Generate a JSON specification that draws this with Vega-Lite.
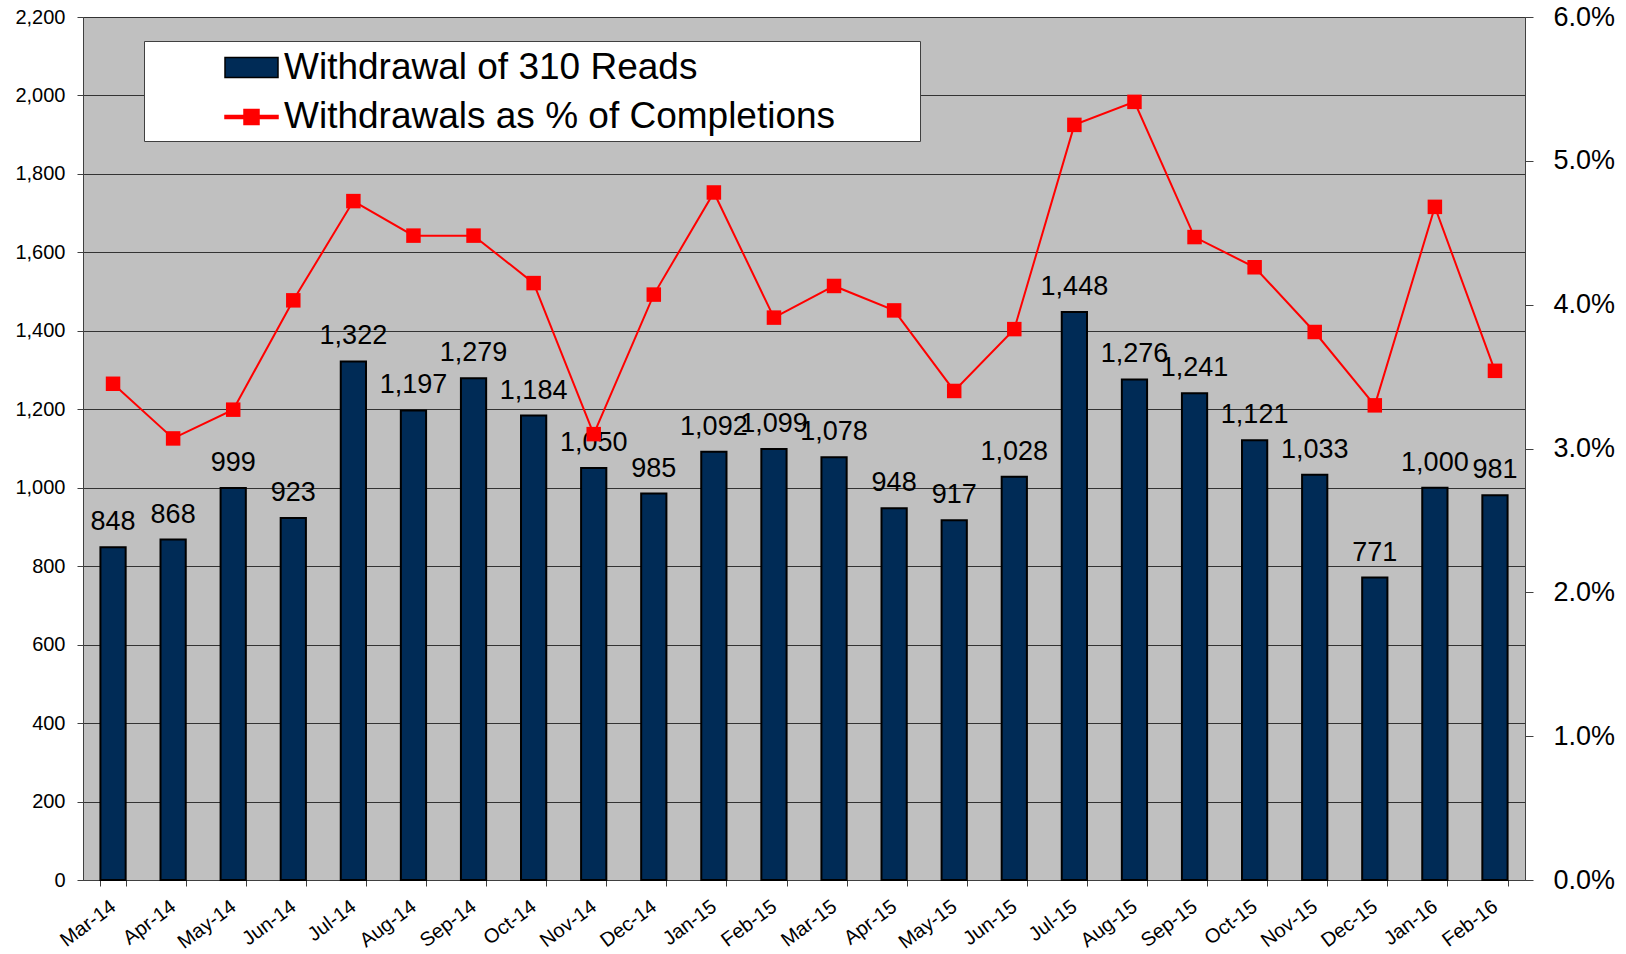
{
  "$schema": "https://vega.github.io/schema/vega-lite/v6.json",
  "autosize": {"type": "none"},
  "padding": {"left": 83, "top": 17, "right": 101, "bottom": 74},
  "width": 1442,
  "height": 863,
  "background": "white",
  "config": {
    "font": "Liberation Sans",
    "view": {"fill": "#C0C0C0", "stroke": "#808080", "strokeWidth": 1},
    "axis": {"labelFont": "Liberation Sans", "labelColor": "black", "domainColor": "#404040", "tickColor": "#404040", "titleFont": "Liberation Sans"}
  },
  "data": {
    "values": [
      {"month": "Mar-14", "reads": 848, "pct": 0.0345},
      {"month": "Apr-14", "reads": 868, "pct": 0.0307},
      {"month": "May-14", "reads": 999, "pct": 0.0327},
      {"month": "Jun-14", "reads": 923, "pct": 0.0403},
      {"month": "Jul-14", "reads": 1322, "pct": 0.0472},
      {"month": "Aug-14", "reads": 1197, "pct": 0.0448},
      {"month": "Sep-14", "reads": 1279, "pct": 0.0448},
      {"month": "Oct-14", "reads": 1184, "pct": 0.0415},
      {"month": "Nov-14", "reads": 1050, "pct": 0.0310},
      {"month": "Dec-14", "reads": 985, "pct": 0.0407},
      {"month": "Jan-15", "reads": 1092, "pct": 0.0478},
      {"month": "Feb-15", "reads": 1099, "pct": 0.0391},
      {"month": "Mar-15", "reads": 1078, "pct": 0.0413},
      {"month": "Apr-15", "reads": 948, "pct": 0.0396},
      {"month": "May-15", "reads": 917, "pct": 0.0340},
      {"month": "Jun-15", "reads": 1028, "pct": 0.0383},
      {"month": "Jul-15", "reads": 1448, "pct": 0.0525},
      {"month": "Aug-15", "reads": 1276, "pct": 0.0541},
      {"month": "Sep-15", "reads": 1241, "pct": 0.0447},
      {"month": "Oct-15", "reads": 1121, "pct": 0.0426},
      {"month": "Nov-15", "reads": 1033, "pct": 0.0381},
      {"month": "Dec-15", "reads": 771, "pct": 0.0330},
      {"month": "Jan-16", "reads": 1000, "pct": 0.0468},
      {"month": "Feb-16", "reads": 981, "pct": 0.0354}
    ]
  },
  "encoding": {
    "x": {
      "field": "month", "type": "ordinal", "sort": null,
      "scale": {"paddingInner": 0.58, "paddingOuter": 0.29},
      "axis": {
        "title": null, "tickBand": "extent", "labelAngle": -37, "labelAlign": "right", "labelBaseline": "middle",
        "labelFontSize": 20, "labelPadding": 18, "tickSize": 6, "domainColor": "#404040", "grid": false
      }
    }
  },
  "layer": [
    {
      "encoding": {
        "y": {
          "field": "reads", "type": "quantitative",
          "scale": {"domain": [0, 2200], "nice": false},
          "axis": {
            "title": null, "values": [0, 200, 400, 600, 800, 1000, 1200, 1400, 1600, 1800, 2000, 2200],
            "labelExpr": "format(datum.value, ',')", "labelFontSize": 20, "labelPadding": 12, "tickSize": 6,
            "grid": true, "gridColor": "#333333", "gridWidth": 1, "gridOpacity": 1
          }
        }
      },
      "layer": [
        {
          "mark": {"type": "bar", "fill": "#002B56", "stroke": "black", "strokeWidth": 2}
        },
        {
          "mark": {"type": "text", "baseline": "alphabetic", "dy": -17, "fontSize": 27, "color": "black"},
          "encoding": {
            "text": {"field": "reads", "type": "quantitative", "format": ","}
          }
        },
        {
          "transform": [{"fold": ["reads", "pct"], "as": ["series", "val"]}],
          "mark": {"type": "point", "filled": true, "size": 0, "opacity": 1},
          "encoding": {
            "fill": {
              "field": "series", "type": "nominal",
              "scale": {"domain": ["reads", "pct"], "range": ["#002B56", "red"]},
              "legend": {
                "orient": "none", "legendX": 61, "legendY": 24, "title": null,
                "fillColor": "white", "strokeColor": "#404040", "padding": 5.5,
                "symbolSize": 1600, "symbolOffset": 81, "labelOffset": 11.5, "rowPadding": 10.6,
                "labelFontSize": 37, "labelFont": "Liberation Sans", "labelLimit": 3000, "labelColor": "black",
                "symbolOpacity": 1, "symbolStrokeWidth": 1.5,
                "labelExpr": "datum.value == 'reads' ? 'Withdrawal of 310 Reads' : 'Withdrawals as % of Completions\u00a0\u00a0\u00a0\u00a0\u00a0\u00a0\u00a0\u2009\u200b'"
              }
            },
            "shape": {
              "field": "series", "type": "nominal",
              "scale": {"domain": ["reads", "pct"], "range": ["M-1.325,-0.5H1.325V0.5H-1.325Z", "M-1.325,-0.075H-0.375V-0.375H0.375V-0.075H1.325V0.075H0.375V0.375H-0.375V0.075H-1.325Z"]}
            },
            "stroke": {
              "field": "series", "type": "nominal",
              "scale": {"domain": ["reads", "pct"], "range": ["black", "red"]}
            }
          }
        }
      ]
    },
    {
      "encoding": {
        "y": {
          "field": "pct", "type": "quantitative",
          "scale": {"domain": [0, 0.06], "nice": false},
          "axis": {
            "orient": "right", "title": null, "values": [0, 0.01, 0.02, 0.03, 0.04, 0.05, 0.06],
            "format": ".1%", "labelFontSize": 27, "labelPadding": 20, "tickSize": 8, "grid": false
          }
        }
      },
      "layer": [
        {
          "mark": {"type": "line", "color": "red", "strokeWidth": 2}
        },
        {
          "mark": {"type": "square", "color": "red", "size": 210, "opacity": 1, "filled": true}
        }
      ]
    }
  ],
  "resolve": {"scale": {"y": "independent"}}
}
